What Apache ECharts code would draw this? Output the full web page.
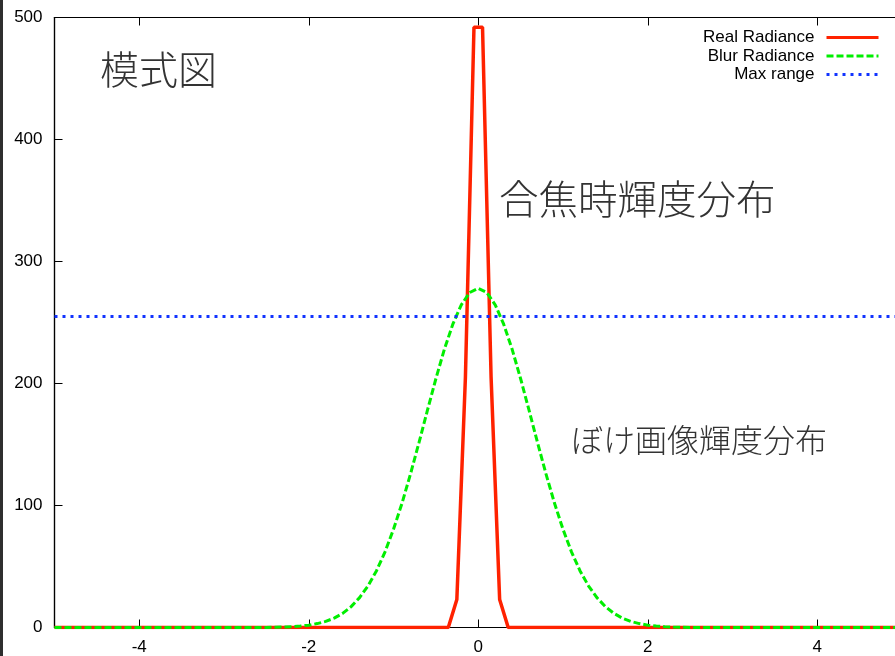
<!DOCTYPE html>
<html>
<head>
<meta charset="utf-8">
<script src="https://cdn.jsdelivr.net/npm/echarts@6/dist/echarts.min.js"></script>
<style>
html,body{margin:0;padding:0;background:#fff;}
#c{width:895px;height:656px;}
</style>
</head>
<body>
<div id="c"></div>
<script>
// ---- data ----
const xTicks = [-4, -2, 0, 2, 4];
const yTicks = [0, 100, 200, 300, 400, 500];

const realX = [-5, -0.3535, -0.2525, -0.1515, -0.0505, 0.0505, 0.1515, 0.2525, 0.3535, 5];
const realY = [0, 0, 23, 205, 492, 492, 205, 23, 0, 0];

const blurX = [-5, -2.5, -2.4, -2.3, -2.2, -2.1, -2.0, -1.9, -1.8, -1.7, -1.6, -1.5, -1.4, -1.3, -1.2, -1.1, -1.0,
  -0.9, -0.8, -0.7, -0.6, -0.5, -0.4, -0.3, -0.2, -0.1, 0, 0.1, 0.2, 0.3, 0.4, 0.5, 0.6, 0.7, 0.8, 0.9,
  1.0, 1.1, 1.2, 1.3, 1.4, 1.5, 1.6, 1.7, 1.8, 1.9, 2.0, 2.1, 2.2, 2.3, 2.4, 2.5, 5];
const blurY = [0, 0.1, 0.2, 0.4, 0.7, 1.2, 1.9, 3.2, 5.0, 7.7, 11.6, 17.1, 24.5, 34.2, 46.6, 62.0, 80.5,
  101.8, 125.7, 151.4, 177.9, 203.9, 228.0, 248.6, 264.5, 274.6, 278, 274.6, 264.5, 248.6, 228.0, 203.9, 177.9, 151.4, 125.7, 101.8,
  80.5, 62.0, 46.6, 34.2, 24.5, 17.1, 11.6, 7.7, 5.0, 3.2, 1.9, 1.2, 0.7, 0.4, 0.2, 0.1, 0];

const maxRangeX = [-5, 5];
const maxRangeY = [255, 255];

const seriesNames = ['Real Radiance', 'Blur Radiance', 'Max range'];
const notes = ['模式図', '合焦時輝度分布', 'ぼけ画像輝度分布'];

// ---- chart ----
const zip = (xs, ys) => xs.map((x, i) => [x, ys[i]]);
const chart = echarts.init(document.getElementById('c'), null, {renderer: 'canvas'});
const labelFont = {fontFamily: 'Liberation Sans, Arial, sans-serif', fontSize: 17, color: '#000'};
const cjk = 'Noto Sans CJK JP, sans-serif';

chart.setOption({
  animation: false,
  backgroundColor: '#fff',
  grid: {left: 54.5, top: 17.5, width: 847.5, bottom: 28.5, show: true, borderColor: '#000', borderWidth: 1.2,
         containLabel: false, outerBoundsMode: 'none'},
  legend: {
    orient: 'vertical', right: 10, top: 24, align: 'right',
    itemWidth: 52, itemHeight: 14, itemGap: 1.5,
    itemStyle: {opacity: 0},
    lineStyle: {width: 3},
    textStyle: {fontFamily: 'Liberation Sans, Arial, sans-serif', fontSize: 17, color: '#000', padding: [0, 7, 0, 0]},
    data: seriesNames
  },
  xAxis: [{
    type: 'value', min: -5, max: 5, position: 'bottom',
    axisLine: {show: true, onZero: false, lineStyle: {color: '#000', width: 1.2}},
    axisTick: {show: true, inside: true, length: 8, customValues: xTicks, lineStyle: {color: '#000'}},
    axisLabel: Object.assign({show: true, customValues: xTicks, margin: 11}, labelFont),
    splitLine: {show: false}
  }, {
    type: 'value', min: -5, max: 5, position: 'top',
    axisLine: {show: true, onZero: false, lineStyle: {color: '#000', width: 1.2}},
    axisTick: {show: true, inside: true, length: 8, customValues: xTicks, lineStyle: {color: '#000'}},
    axisLabel: {show: false},
    splitLine: {show: false}
  }],
  yAxis: [{
    type: 'value', min: 0, max: 500, interval: 100, position: 'left',
    axisLine: {show: true, onZero: false, lineStyle: {color: '#000', width: 1.2}},
    axisTick: {show: true, inside: true, length: 8, lineStyle: {color: '#000'}},
    axisLabel: Object.assign({show: true, margin: 12}, labelFont),
    splitLine: {show: false}
  }],
  graphic: [
    {type: 'rect', left: 0, top: 0, shape: {width: 3, height: 656}, style: {fill: '#2e2e2e'}, z: 100},
    {type: 'text', left: 100, top: 50, style: {text: notes[0], font: '300 39px ' + cjk, fill: '#333'}, z: 50},
    {type: 'text', left: 499, top: 179, style: {text: notes[1], font: '300 39.5px ' + cjk, fill: '#333'}, z: 50},
    {type: 'text', left: 571, top: 424, style: {text: notes[2], font: '300 32px ' + cjk, fill: '#333'}, z: 50}
  ],
  series: [
    {
      name: seriesNames[0], type: 'line', data: zip(realX, realY), showSymbol: false, symbol: 'none',
      lineStyle: {color: '#ff2200', width: 3.5, type: 'solid'}, itemStyle: {color: '#ff2200'}, z: 2
    },
    {
      name: seriesNames[1], type: 'line', data: zip(blurX, blurY), showSymbol: false, symbol: 'none', smooth: false,
      lineStyle: {color: '#00ee00', width: 3, type: [7, 3]}, itemStyle: {color: '#00ee00'}, z: 3
    },
    {
      name: seriesNames[2], type: 'line', data: zip(maxRangeX, maxRangeY), showSymbol: false, symbol: 'none',
      lineStyle: {color: '#1133ff', width: 3, type: [3, 5]}, itemStyle: {color: '#1133ff'}, z: 4
    }
  ]
});
</script>
</body>
</html>
